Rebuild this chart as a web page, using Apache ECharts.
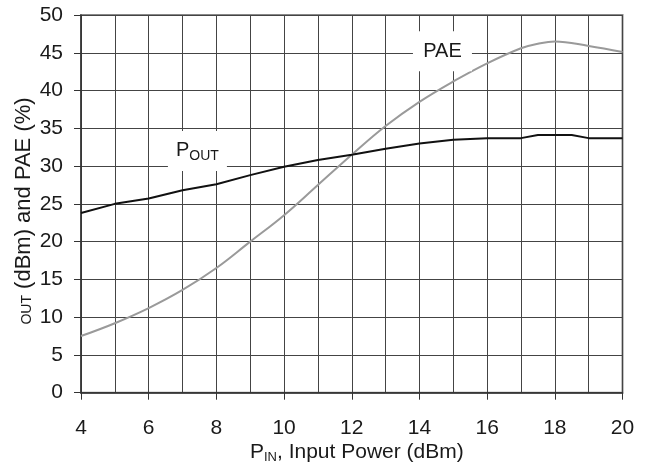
<!DOCTYPE html>
<html>
<head>
<meta charset="utf-8">
<script src="https://cdn.jsdelivr.net/npm/echarts@6/dist/echarts.min.js"></script>
<style>
  html, body { margin: 0; padding: 0; background: #fff; }
  #main { width: 647px; height: 471px; }
</style>
</head>
<body>
<div id="main"></div>
<script>
// P_OUT (dBm) vs input power
const poutX = [4, 5, 6, 7, 8, 9, 10, 11, 12, 13, 14, 15, 16, 17, 17.5, 18, 18.5, 19, 20]
const poutY = [23.8, 25.0, 25.7, 26.8, 27.6, 28.8, 29.9, 30.8, 31.5, 32.3, 33.0, 33.5, 33.7, 33.7, 34.1, 34.1, 34.1, 33.7, 33.7]

// PAE (%) vs input power
const paeX = [4, 5, 6, 7, 8, 9, 10, 11, 12, 13, 14, 15, 16, 17, 17.5, 18, 19, 20]
const paeY = [7.5, 9.2, 11.2, 13.6, 16.5, 20.0, 23.5, 27.5, 31.5, 35.3, 38.5, 41.2, 43.6, 45.6, 46.2, 46.5, 45.9, 45.1]

// where the in-plot curve labels sit (data coords)
const poutLabelAt = [7.44, 32.0]
const paeLabelAt = [14.68, 45.2]

const xTicks = [4, 6, 8, 10, 12, 14, 16, 18, 20]
const yTicks = [0, 5, 10, 15, 20, 25, 30, 35, 40, 45, 50]

const font = 'Liberation Sans, Arial, sans-serif'
const txt = '#1a1a1a'
const gridCol = '#444'

function zip (xs, ys) {
  return xs.map((x, i) => [x, ys[i]])
}

function boxLabel (coord, text) {
  return {
    silent: true,
    symbol: 'rect',
    symbolSize: [59, 40],
    itemStyle: { color: '#fff' },
    label: {
      show: true,
      position: 'inside',
      formatter: text,
      color: txt,
      fontFamily: font,
      fontSize: 20,
      rich: {
        p: { fontSize: 20, fontFamily: font, color: txt },
        s: { fontSize: 14, fontFamily: font, color: txt, padding: [10, 0, 0, 0] }
      }
    },
    data: [{ coord: coord }]
  }
}

const myChart = echarts.init(document.getElementById('main'))

myChart.setOption({
  backgroundColor: '#fff',
  animation: false,
  grid: {
    left: 81,
    right: 24.5,
    top: 15,
    bottom: 78.3,
    show: true,
    borderColor: '#888',
    borderWidth: 2,
    backgroundColor: 'transparent'
  },
  xAxis: {
    type: 'value',
    min: 4,
    max: 20,
    interval: 2,
    axisLine: { lineStyle: { color: '#333', width: 1.5 } },
    axisTick: { show: true, length: 7, lineStyle: { color: '#333' } },
    axisLabel: {
      margin: 25,
      color: txt,
      fontFamily: font,
      fontSize: 21,
      formatter: (v) => xTicks.includes(v) ? String(v) : ''
    },
    splitLine: { show: true, lineStyle: { color: gridCol, width: 1 } },
    minorTick: { show: false, splitNumber: 2 },
    minorSplitLine: { show: true, lineStyle: { color: gridCol, width: 1 } }
  },
  yAxis: {
    type: 'value',
    min: 0,
    max: 50,
    interval: 5,
    axisLine: { show: true, lineStyle: { color: '#333', width: 1.5 } },
    axisTick: { show: true, length: 7, lineStyle: { color: '#333' } },
    axisLabel: {
      margin: 18,
      color: txt,
      fontFamily: font,
      fontSize: 21,
      formatter: (v) => yTicks.includes(v) ? String(v) : ''
    },
    splitLine: { show: true, lineStyle: { color: gridCol, width: 1 } }
  },
  graphic: [
    {
      type: 'text',
      left: 250,
      top: 442,
      style: {
        text: '{a|P}{b|IN}{a|, Input Power (dBm)}',
        rich: {
          a: { fontSize: 21, fontFamily: font, fill: txt },
          b: { fontSize: 13, fontFamily: font, fill: txt, padding: [10, 0, 0, 0] }
        }
      }
    },
    {
      type: 'text',
      x: 24,
      y: 211,
      rotation: Math.PI / 2,
      style: {
        text: '{b|OUT}{a| (dBm) and PAE (%)}',
        align: 'center',
        verticalAlign: 'middle',
        rich: {
          a: { fontSize: 22, fontFamily: font, fill: txt },
          b: { fontSize: 14, fontFamily: font, fill: txt, padding: [6, 0, 0, 0] }
        }
      }
    }
  ],
  series: [
    {
      name: 'PAE',
      type: 'line',
      data: zip(paeX, paeY),
      smooth: 0.4,
      symbol: 'none',
      lineStyle: { color: '#9a9a9a', width: 2 },
      markPoint: boxLabel(paeLabelAt, '{p|PAE}'),
      z: 3
    },
    {
      name: 'POUT',
      type: 'line',
      data: zip(poutX, poutY),
      symbol: 'none',
      lineStyle: { color: '#111', width: 2 },
      markPoint: boxLabel(poutLabelAt, '{p|P}{s|OUT}'),
      z: 4
    }
  ]
})
</script>
</body>
</html>
